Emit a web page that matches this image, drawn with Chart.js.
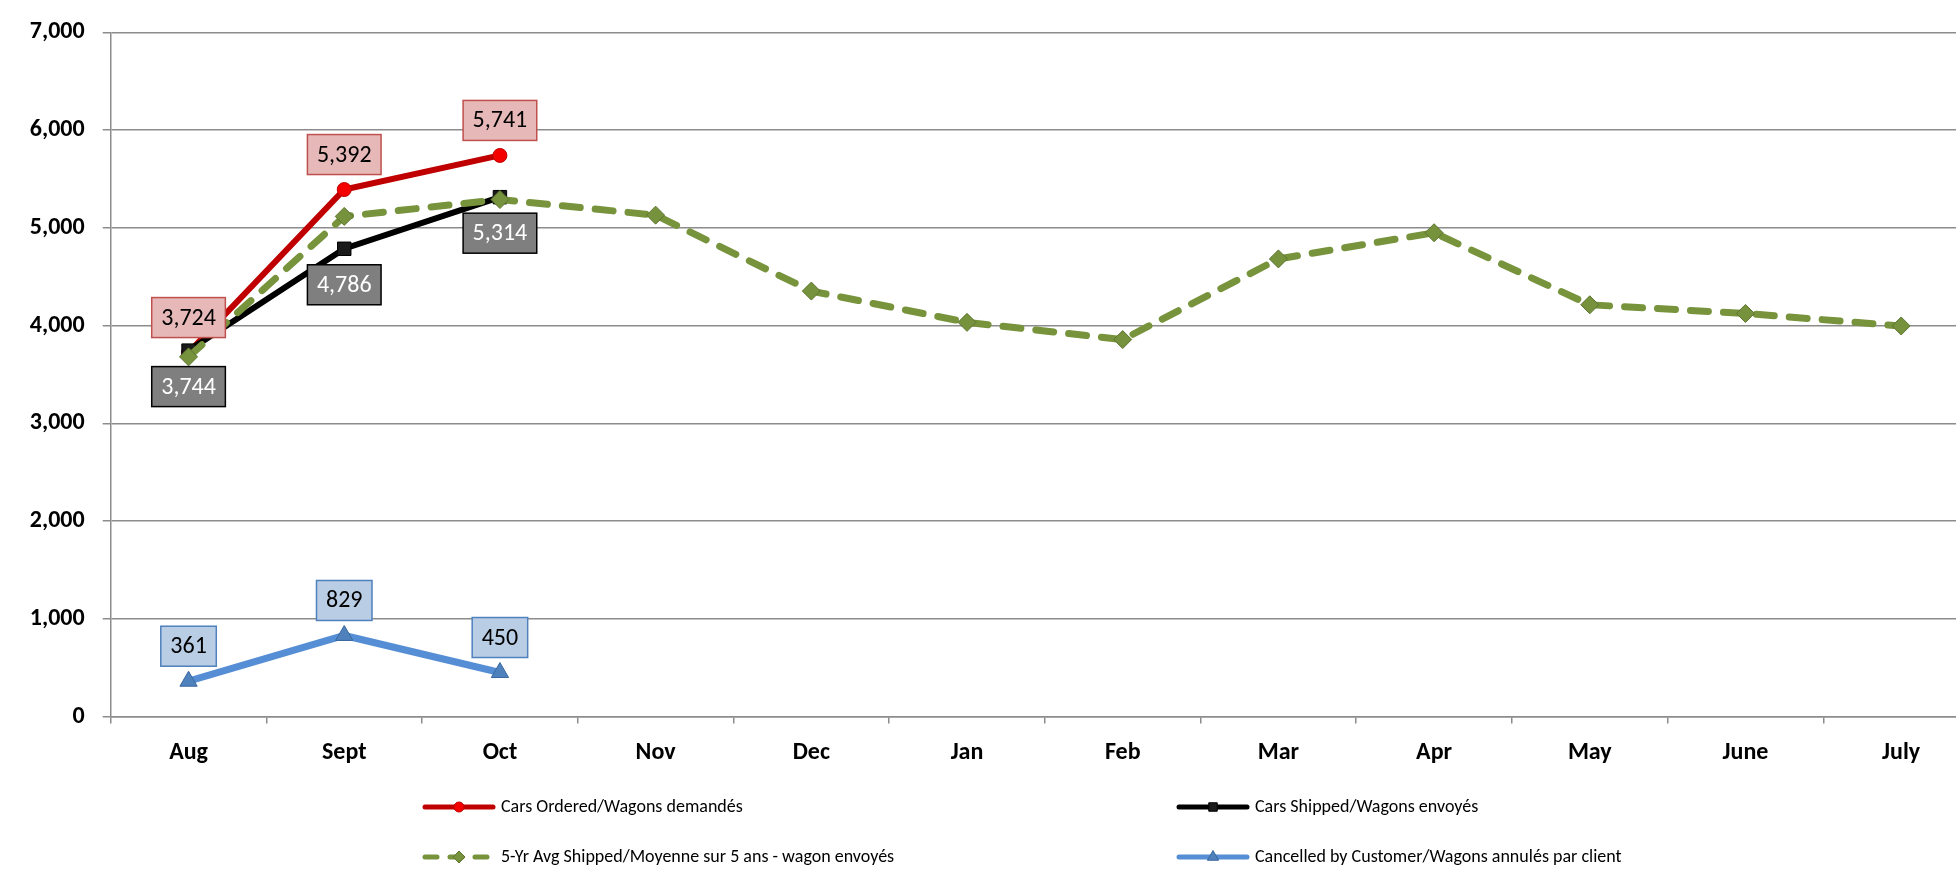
<!DOCTYPE html>
<html><head><meta charset="utf-8">
<script src="https://cdn.jsdelivr.net/npm/chart.js@4.4.1/dist/chart.umd.min.js"></script>
<style>
html,body{margin:0;padding:0;background:#fff;overflow:hidden;width:1956px;height:872px;}
#wrap{position:absolute;left:0;top:0;width:1990px;height:872px;}
</style></head><body>
<div id="wrap"><canvas id="c"></canvas></div>
<script>
const months = ['Aug','Sept','Oct','Nov','Dec','Jan','Feb','Mar','Apr','May','June','July'];
const carsOrdered = [3724, 5392, 5741];
const carsShipped = [3744, 4786, 5314];
const fiveYrAvg = [3680, 5117, 5290, 5130, 4353, 4033, 3857, 4682, 4950, 4213, 4124, 3996];
const cancelled = [361, 829, 450];
const seriesNames = [
  'Cars Ordered/Wagons demandés',
  'Cars Shipped/Wagons envoyés',
  '5-Yr Avg Shipped/Moyenne sur 5 ans - wagon envoyés',
  'Cancelled by Customer/Wagons annulés par client'
];
const yMin = 0, yMax = 7000, yStep = 1000;

const FONT = 'Carlito, Lato, "Liberation Sans", sans-serif';
const GRID = '#8c8c8c';

function drawMarker(ctx, style, x, y, r, fill, stroke, bw) {
  ctx.save();
  ctx.beginPath();
  if (style === 'circle') {
    ctx.arc(x, y, r, 0, Math.PI * 2);
  } else if (style === 'rect') {
    const s = r * Math.SQRT1_2;
    ctx.rect(x - s, y - s, 2 * s, 2 * s);
  } else if (style === 'rectRot') {
    ctx.moveTo(x - r, y); ctx.lineTo(x, y - r); ctx.lineTo(x + r, y); ctx.lineTo(x, y + r); ctx.closePath();
  } else if (style === 'triangle') {
    ctx.moveTo(x, y - r);
    ctx.lineTo(x + r * Math.sin(Math.PI / 3), y + r * 0.5);
    ctx.lineTo(x - r * Math.sin(Math.PI / 3), y + r * 0.5);
    ctx.closePath();
  }
  ctx.fillStyle = fill; ctx.fill();
  if (bw) { ctx.lineWidth = bw; ctx.strokeStyle = stroke; ctx.stroke(); }
  ctx.restore();
}

const boxLabels = {
  id: 'boxLabels',
  afterDatasetsDraw(chart) {
    const ctx = chart.ctx;
    chart.data.datasets.forEach((ds, i) => {
      const bl = ds.boxLabel;
      if (!bl) return;
      const meta = chart.getDatasetMeta(i);
      meta.data.forEach((pt, j) => {
        const v = ds.data[j];
        if (v == null) return;
        const txt = v.toLocaleString('en-US');
        ctx.save();
        ctx.font = '24px ' + FONT;
        const w = ctx.measureText(txt).width + 19, h = 40;
        const cy = pt.y + (bl.pos === 'above' ? -35 : 36);
        ctx.fillStyle = bl.fill;
        ctx.fillRect(pt.x - w / 2, cy - h / 2, w, h);
        ctx.lineWidth = 1.5;
        ctx.strokeStyle = bl.stroke;
        ctx.strokeRect(pt.x - w / 2, cy - h / 2, w, h);
        ctx.fillStyle = bl.color;
        ctx.textAlign = 'center';
        ctx.textBaseline = 'middle';
        ctx.fillText(txt, pt.x, cy + 1);
        ctx.restore();
      });
    });
  }
};

const customLegend = {
  id: 'customLegend',
  afterDraw(chart) {
    const ctx = chart.ctx;
    const colX = [423, 1177];
    const rowY = [807, 857];
    const lineLen = 72;
    chart.data.datasets.forEach((ds, i) => {
      const x = colX[i % 2], y = rowY[Math.floor(i / 2)];
      ctx.save();
      ctx.beginPath();
      ctx.lineWidth = 5;
      ctx.strokeStyle = ds.borderColor;
      ctx.lineCap = 'round';
      ctx.setLineDash(ds.borderDash ? [12, 13] : []);
      ctx.moveTo(x + 2, y); ctx.lineTo(x + lineLen - 2, y);
      ctx.stroke();
      ctx.restore();
      drawMarker(ctx, ds.pointStyle, x + lineLen / 2, y, ds.legendRadius, ds.pointBackgroundColor, ds.pointBorderColor, 1);
      ctx.save();
      ctx.font = '18px ' + FONT;
      ctx.fillStyle = '#000';
      ctx.textAlign = 'left';
      ctx.textBaseline = 'middle';
      ctx.fillText(ds.label, x + lineLen + 6, y);
      ctx.restore();
    });
  }
};

new Chart(document.getElementById('c'), {
  type: 'line',
  data: {
    labels: months,
    datasets: [
      {
        label: seriesNames[0], data: carsOrdered, order: 4,
        borderColor: '#c00000', borderWidth: 6,
        pointStyle: 'circle', pointRadius: 7, pointBackgroundColor: '#f40000', pointBorderColor: '#c00000', pointBorderWidth: 1,
        legendRadius: 5,
        boxLabel: { pos: 'above', fill: '#e6b9b8', stroke: '#c0504d', color: '#000' }
      },
      {
        label: seriesNames[1], data: carsShipped, order: 3,
        borderColor: '#000000', borderWidth: 6,
        pointStyle: 'rect', pointRadius: 9.5, pointBackgroundColor: '#1a1a1a', pointBorderColor: '#000', pointBorderWidth: 1,
        legendRadius: 6,
        boxLabel: { pos: 'below', fill: '#7f7f7f', stroke: '#000000', color: '#ffffff' }
      },
      {
        label: seriesNames[2], data: fiveYrAvg, order: 2,
        borderColor: '#77933c', borderWidth: 7, borderDash: [18, 15], borderCapStyle: 'round',
        pointStyle: 'rectRot', pointRadius: 9, pointBackgroundColor: '#76923c', pointBorderColor: '#5c7430', pointBorderWidth: 1,
        legendRadius: 6
      },
      {
        label: seriesNames[3], data: cancelled, order: 1,
        borderColor: '#558ed5', borderWidth: 7,
        pointStyle: 'triangle', pointRadius: 10, pointBackgroundColor: '#4f81bd', pointBorderColor: '#3a679e', pointBorderWidth: 1,
        legendRadius: 6.5,
        boxLabel: { pos: 'above', fill: '#b9cde5', stroke: '#4f81bd', color: '#000' }
      }
    ]
  },
  options: {
    responsive: true,
    maintainAspectRatio: false,
    animation: false,
    devicePixelRatio: 1,
    layout: { padding: { top: 29.4, right: 4, bottom: 0, left: 0 } },
    elements: { line: { tension: 0 } },
    plugins: { legend: { display: false }, tooltip: { enabled: false } },
    scales: {
      x: {
        offset: true,
        grid: { offset: true, drawOnChartArea: false, drawTicks: true, tickLength: 7, color: GRID, lineWidth: 1.5 },
        border: { display: true, color: GRID, width: 1.5 },
        ticks: { color: '#000', font: { family: FONT, size: 24, weight: 'bold' }, padding: 15, maxRotation: 0, autoSkip: false },
        afterFit(s) { s.height = 155.5; }
      },
      y: {
        min: yMin, max: yMax,
        grid: { color: GRID, lineWidth: 1.5, drawTicks: true, tickLength: 8 },
        border: { display: true, color: GRID, width: 1.5 },
        ticks: {
          stepSize: yStep, color: '#000', padding: 18,
          font: { family: FONT, size: 24, weight: 'bold' },
          callback: v => v.toLocaleString('en-US')
        },
        afterFit(s) { s.width = 110.7; }
      }
    }
  },
  plugins: [boxLabels, customLegend]
});
</script>
</body></html>
